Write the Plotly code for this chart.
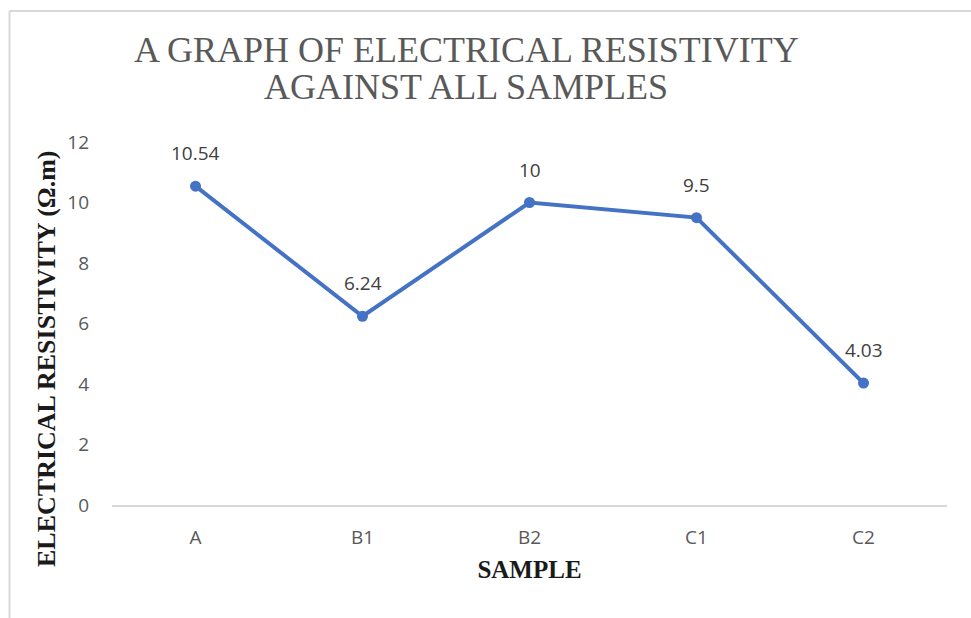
import plotly.graph_objects as go

samples = ["A", "B1", "B2", "C1", "C2"]
resistivity = [10.54, 6.24, 10, 9.5, 4.03]
value_labels = ["10.54", "6.24", "10", "9.5", "4.03"]
y_ticks = [0, 2, 4, 6, 8, 10, 12]
title_lines = ["A GRAPH OF ELECTRICAL RESISTIVITY", "AGAINST ALL SAMPLES"]

W, H = 971, 618
L, R, T, B = 112, 24, 142, 113
pw, ph = W - L - R, H - T - B

def px_x(p):
    return (p - L) / pw

def px_y(p):
    return (H - B - p) / ph

SANS = "Open Sans, Liberation Sans, sans-serif"
SERIF = "Liberation Serif, Times New Roman, serif"

fig = go.Figure()
fig.add_trace(go.Scatter(
    x=samples, y=resistivity, mode="lines+markers",
    line=dict(color="#4472C4", width=4),
    marker=dict(color="#4472C4", size=11),
    hoverinfo="skip", showlegend=False,
))

for s, v, t in zip(samples, resistivity, value_labels):
    fig.add_annotation(x=s, y=v, text=t, showarrow=False, yshift=33,
                       font=dict(family=SANS, size=19, color="#404040"))

# title (two lines with Excel-like spacing)
for line, ypx in zip(title_lines, [50, 87]):
    fig.add_annotation(xref="paper", yref="paper", x=px_x(466), y=px_y(ypx),
                       xanchor="center", yanchor="middle", showarrow=False,
                       text=line, font=dict(family=SERIF, size=36, color="#595959"))

# y-axis title
fig.add_annotation(xref="paper", yref="paper", x=px_x(46), y=px_y(359),
                   xanchor="center", yanchor="middle", showarrow=False, textangle=-90,
                   text="<b>ELECTRICAL RESISTIVITY (Ω.m)</b>",
                   font=dict(family=SERIF, size=26, color="#1a1a1a"))

# outer chart border (top and left visible)
fig.add_shape(type="line", xref="paper", yref="paper",
              x0=px_x(9.5), x1=px_x(990), y0=px_y(11), y1=px_y(11),
              line=dict(color="#D9D9D9", width=2))
fig.add_shape(type="line", xref="paper", yref="paper",
              x0=px_x(9.5), x1=px_x(9.5), y0=px_y(11), y1=px_y(640),
              line=dict(color="#D9D9D9", width=2))

fig.update_layout(
    width=W, height=H,
    margin=dict(l=L, r=R, t=T, b=B),
    plot_bgcolor="white", paper_bgcolor="white",
    xaxis=dict(
        type="category", range=[-0.5, 4.5],
        showgrid=False, showline=True, linecolor="#D9D9D9", linewidth=2,
        ticks="", ticklabelstandoff=14,
        tickfont=dict(family=SANS, size=19, color="#595959"),
        title=dict(text="<b>SAMPLE</b>", standoff=12,
                   font=dict(family=SERIF, size=25, color="#1a1a1a")),
    ),
    yaxis=dict(
        range=[0, 12], tickvals=y_ticks,
        showgrid=False, zeroline=False, showline=False,
        ticks="", ticklabelstandoff=22,
        tickfont=dict(family=SANS, size=19, color="#595959"),
    ),
)

fig.write_html("out.html", config={"displayModeBar": False},
               post_script="document.body.style.margin='0';document.body.style.padding='0';")
